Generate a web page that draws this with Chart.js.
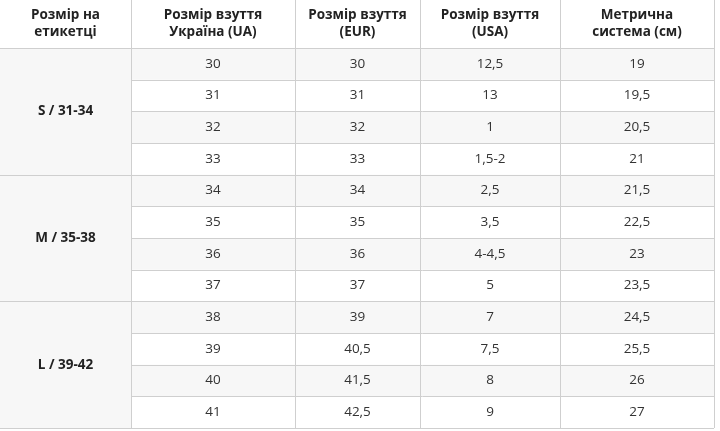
<!DOCTYPE html>
<html><head><meta charset="utf-8">
<script src="https://cdn.jsdelivr.net/npm/chart.js@4/dist/chart.umd.min.js"></script>
<style>html,body{margin:0;padding:0;background:#fff}canvas{display:block}</style>
</head><body><canvas id="c" width="720" height="431"></canvas>
<script>
const headers = [["Розмір на","етикетці"],["Розмір взуття","Україна (UA)"],["Розмір взуття","(EUR)"],["Розмір взуття","(USA)"],["Метрична","система (см)"]];
const groups = ["S / 31-34","M / 35-38","L / 39-42"];
const sizeUA = ["30","31","32","33","34","35","36","37","38","39","40","41"];
const sizeEUR = ["30","31","32","33","34","35","36","37","39","40,5","41,5","42,5"];
const sizeUSA = ["12,5","13","1","1,5-2","2,5","3,5","4-4,5","5","7","7,5","8","9"];
const sizeCM = ["19","19,5","20,5","21","21,5","22,5","23","23,5","24,5","25,5","26","27"];

// layout (not data)
const colEdges = [0,131,295,420,560,714];
const headerBottom = 48, rowH = 31.67;

const tablePlugin = {
  id:'table',
  afterDraw(chart){
    const ctx = chart.ctx, xs = chart.scales.x, ys = chart.scales.y;
    const X = v=>xs.getPixelForValue(v), Y = v=>ys.getPixelForValue(v);
    const cols = [sizeUA,sizeEUR,sizeUSA,sizeCM];
    const n = sizeUA.length;
    ctx.save();
    for(let i=0;i<n;i++){
      if(i%2===0){ctx.fillStyle='#f7f7f7';ctx.fillRect(X(colEdges[1]),Y(headerBottom+i*rowH),X(colEdges[5])-X(colEdges[1]),rowH);}
    }
    ctx.fillStyle='#f7f7f7';
    ctx.fillRect(X(0),Y(headerBottom),X(colEdges[1]),Y(headerBottom+n*rowH)-Y(headerBottom));
    ctx.strokeStyle='#cfcfcf';ctx.lineWidth=1;
    ctx.beginPath();
    for(let i=0;i<=n;i++){
      const y=Math.round(Y(headerBottom+i*rowH))+0.5;
      const x0 = (i%4===0)?X(0):X(colEdges[1]);
      ctx.moveTo(x0,y);ctx.lineTo(X(colEdges[5]),y);
    }
    for(let c=1;c<colEdges.length;c++){
      const x=Math.round(X(colEdges[c]))+0.5;
      ctx.moveTo(x,0);ctx.lineTo(x,Y(headerBottom+n*rowH));
    }
    ctx.stroke();
    ctx.textAlign='center';ctx.textBaseline='middle';
    ctx.fillStyle='#222';ctx.font='bold 13.5px "Open Sans"';
    headers.forEach((h,c)=>{
      const cx=(X(colEdges[c])+X(colEdges[c+1]))/2;
      ctx.fillText(h[0],cx,Y(15));ctx.fillText(h[1],cx,Y(32));
    });
    groups.forEach((g,k)=>{
      ctx.fillText(g,X(colEdges[1])/2,Y(headerBottom+(k*4+2)*rowH));
    });
    ctx.fillStyle='#333';ctx.font='13.5px "Open Sans"';
    cols.forEach((arr,c)=>{
      const cx=(X(colEdges[c+1])+X(colEdges[c+2]))/2;
      arr.forEach((v,i)=>ctx.fillText(v,cx,Y(headerBottom+(i+0.5)*rowH)));
    });
    ctx.restore();
  }
};

new Chart(document.getElementById('c'),{
  type:'scatter',
  data:{datasets:[]},
  options:{responsive:false,animation:false,layout:{padding:0},
    plugins:{legend:{display:false},tooltip:{enabled:false}},
    scales:{x:{type:'linear',min:0,max:720,display:false},y:{type:'linear',min:0,max:431,reverse:true,display:false}}},
  plugins:[tablePlugin]
});
</script></body></html>
